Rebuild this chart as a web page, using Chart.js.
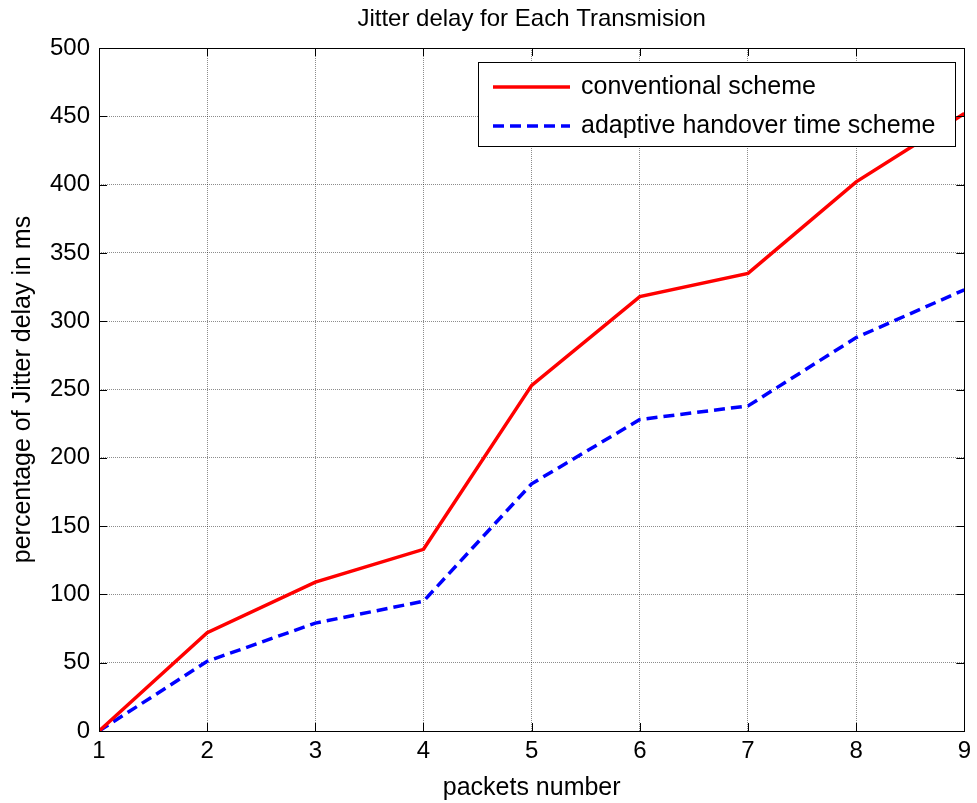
<!DOCTYPE html>
<html>
<head>
<meta charset="utf-8">
<script src="https://cdn.jsdelivr.net/npm/chart.js@4/dist/chart.umd.min.js"></script>
<style>
  html, body { margin: 0; padding: 0; background: #fff; }
  #wrap { width: 977px; height: 803px; }
</style>
</head>
<body>
<div id="wrap"><canvas id="chart" width="977" height="803"></canvas></div>
<script>
// packets number 1..9
const packets = [1, 2, 3, 4, 5, 6, 7, 8, 9];
const conventional = [0, 72, 109, 133, 253, 318, 335, 402, 452];
const adaptive = [0, 51, 79, 95, 181, 228, 238, 288, 323];
const yTicks = [0, 50, 100, 150, 200, 250, 300, 350, 400, 450, 500];

const seriesNames = ["conventional scheme", "adaptive handover time scheme"];
const titleText = "Jitter delay for Each Transmision";
const FONT = "Liberation Sans, Arial, sans-serif";

// frame, inward ticks, title and the legend box (matlab style)
const matlabFrame = {
  id: "matlabFrame",
  afterDraw(chart) {
    const c = chart.ctx;
    const a = chart.chartArea;
    const xs = chart.scales.x, ys = chart.scales.y;
    c.save();
    c.strokeStyle = "#000";
    c.lineWidth = 1;
    c.strokeRect(Math.round(a.left) + 0.5, Math.round(a.top) + 0.5,
      Math.round(a.right - a.left), Math.round(a.bottom - a.top));

    c.beginPath();
    packets.forEach(p => {
      const x = Math.round(xs.getPixelForValue(p)) + 0.5;
      c.moveTo(x, a.bottom); c.lineTo(x, a.bottom - 8);
      c.moveTo(x, a.top); c.lineTo(x, a.top + 8);
    });
    yTicks.forEach(v => {
      const y = Math.round(ys.getPixelForValue(v)) + 0.5;
      c.moveTo(a.left, y); c.lineTo(a.left + 8, y);
      c.moveTo(a.right, y); c.lineTo(a.right - 8, y);
    });
    c.stroke();

    // title
    c.fillStyle = "#000";
    c.font = "24px " + FONT;
    c.textAlign = "center";
    c.textBaseline = "middle";
    c.fillText(titleText, (a.left + a.right) / 2, 19);

    // legend
    const lx = 478, ly = 62, lw = 477, lh = 84;
    c.fillStyle = "#fff";
    c.fillRect(lx, ly, lw, lh);
    c.strokeStyle = "#000";
    c.lineWidth = 1;
    c.strokeRect(lx + 0.5, ly + 0.5, lw, lh);
    const rows = [87, 126];
    chart.data.datasets.forEach((ds, i) => {
      c.beginPath();
      c.strokeStyle = ds.borderColor;
      c.lineWidth = ds.borderWidth;
      c.setLineDash(ds.borderDash || []);
      c.moveTo(493, rows[i]);
      c.lineTo(570, rows[i]);
      c.stroke();
      c.setLineDash([]);
      c.fillStyle = "#000";
      c.font = "25px " + FONT;
      c.textAlign = "left";
      c.textBaseline = "middle";
      c.fillText(ds.label, 581, rows[i]);
    });
    c.restore();
  }
};

const ctx = document.getElementById("chart");
new Chart(ctx, {
  type: "line",
  data: {
    datasets: [
      {
        label: seriesNames[0],
        data: packets.map((p, i) => ({ x: p, y: conventional[i] })),
        borderColor: "#ff0000",
        borderWidth: 3.5,
        pointRadius: 0,
        tension: 0
      },
      {
        label: seriesNames[1],
        data: packets.map((p, i) => ({ x: p, y: adaptive[i] })),
        borderColor: "#0000ff",
        borderWidth: 3.5,
        borderDash: [11, 6],
        pointRadius: 0,
        tension: 0
      }
    ]
  },
  options: {
    responsive: false,
    animation: false,
    layout: { padding: { top: 48, right: 11, left: 0, bottom: 0 } },
    plugins: {
      legend: { display: false },
      title: { display: false },
      tooltip: { enabled: false }
    },
    scales: {
      x: {
        type: "linear",
        min: 1,
        max: 9,
        afterFit: s => { s.height = 72; },
        afterBuildTicks: s => { s.ticks = packets.map(v => ({ value: v })); },
        grid: { color: "rgba(0,0,0,0.45)", drawTicks: false },
        border: { display: false, dash: [1, 1] },
        ticks: { color: "#000", font: { family: FONT, size: 24 }, padding: 6, maxRotation: 0 },
        title: { display: true, text: "packets number", color: "#000",
          font: { family: FONT, size: 25 }, padding: { top: 0, bottom: 0 } }
      },
      y: {
        min: 0,
        max: 500,
        afterFit: s => { s.width = 99; },
        afterBuildTicks: s => { s.ticks = yTicks.map(v => ({ value: v })); },
        grid: { color: "rgba(0,0,0,0.45)", drawTicks: false },
        border: { display: false, dash: [1, 1] },
        ticks: { color: "#000", font: { family: FONT, size: 24 }, padding: 9 },
        title: { display: true, text: "percentage of Jitter delay in ms", color: "#000",
          font: { family: FONT, size: 25 }, padding: { top: 8, bottom: 0 } }
      }
    }
  },
  plugins: [matlabFrame]
});
</script>
</body>
</html>
